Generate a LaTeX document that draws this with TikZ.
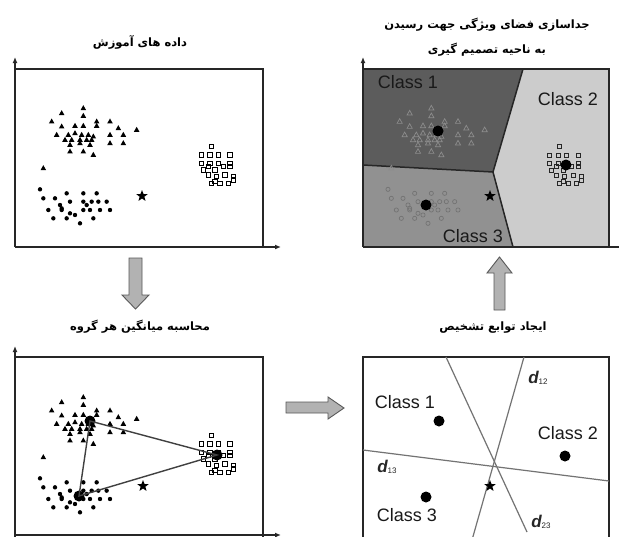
\documentclass[tikz,border=0pt]{standalone}
\usepackage{fontspec}
\setmainfont{Liberation Sans}
\newfontfamily\fa[Script=Arabic]{DejaVu Sans}
\TeXXeTstate=1
\usetikzlibrary{shapes.geometric,arrows.meta}

\def\TriList{185/340,250/325,155/365,250/348,290/365,330/365,185/380,225/378,250/378,290/378,355/385,410/390,170/405,205/405,225/400,245/405,265/405,280/410,330/405,370/405,195/420,215/420,240/420,260/420,275/420,210/435,240/430,270/435,330/430,370/430,210/455,250/455,280/465,130/505}
\def\DotList{120/568,130/595,165/595,200/580,250/580,290/580,145/630,180/615,210/605,250/605,275/605,295/605,320/605,185/630,210/640,225/645,250/630,270/630,300/630,330/630,160/655,200/655,240/670,280/655,185/625,260/615}
\def\SqList{635/440,605/465,630/465,655/465,690/465,605/490,630/490,655/490,690/490,610/510,625/500,645/510,670/500,690/500,625/525,650/530,675/525,700/530,635/550,660/550,685/550,700/540,645/545}

\begin{document}
\begin{tikzpicture}[x=1pt,y=-1pt,
  axisline/.style={line width=1.3pt, draw=black!85},
  axisarrow/.style={line width=1.3pt, draw=black!85, -{Latex[length=6pt,width=5pt]}},
  blockarrow/.style={fill=black!30, draw=black!65, line width=0.9pt},
  title/.style={font=\fa\bfseries\fontsize{11.5}{13}\selectfont, inner sep=0pt},
  cls/.style={font=\fontsize{18}{20}\selectfont, inner sep=0pt, text=black!90},
  dlab/.style={font=\fontsize{17}{19}\selectfont\bfseries\itshape, inner sep=0pt, text=black!85},
  centroid/.style={circle, fill=black, minimum size=11pt, inner sep=0pt},
  starmark/.style={star, star points=5, star point ratio=2.4, fill=black, minimum size=12pt, inner sep=0pt},
  sepline/.style={draw=black!55, line width=1.2pt},
  bound/.style={draw=black!85, line width=1.5pt}]
\useasboundingbox[fill=white] (0,0) rectangle (619,536);

% ---------- Top-left panel ----------
\node[title] (t1) at (140,42) {\beginR داده های آموزش\endR};
\draw[axisline] (15,69) -- (263,69) -- (263,247);
\draw[axisarrow] (15,247) -- (15,57);
\draw[axisarrow] (15,247) -- (281,247);
\foreach \x/\y in \TriList {\fill ({\x/3},{\y/3}) +(0pt,3.2pt) -- +(2.8pt,-1.8pt) -- +(-2.8pt,-1.8pt) -- cycle;}
\foreach \x/\y in \DotList {\fill ({\x/3},{\y/3}) circle (2.2pt);}
\foreach \x/\y in \SqList {\draw[line width=0.9pt] ({\x/3-2.1},{\y/3-2.1}) rectangle +(4.2pt,-4.2pt);}
\node[starmark] (s1) at (142,196) {};

% ---------- Top-right panel ----------
\node[title] (t2a) at (487,25) {\beginR جداسازی فضای ویژگی جهت رسیدن\endR};
\node[title] (t2b) at (487,50) {\beginR به ناحیه تصمیم گیری\endR};
\fill[black!64] (363,69) -- (523,69) -- (493,172) -- (363,165) -- cycle;
\fill[black!20] (523,69) -- (609,69) -- (609,247) -- (513,247) -- (493,172) -- cycle;
\fill[black!43] (363,165) -- (493,172) -- (513,247) -- (363,247) -- cycle;
\draw[bound] (523,69) -- (493,172) -- (513,247);
\draw[bound] (363,165) -- (493,172);
\draw[axisline] (363,69) -- (609,69) -- (609,247);
\draw[axisarrow] (363,247) -- (363,57);
\draw[axisline] (363,247) -- (619,247);
\begin{scope}[shift={(348,0)}]
\foreach \x/\y in \TriList {\draw[black!45, line width=0.7pt] ({\x/3},{\y/3}) +(0pt,3pt) -- +(2.6pt,-1.7pt) -- +(-2.6pt,-1.7pt) -- cycle;}
\foreach \x/\y in \DotList {\draw[black!55, line width=0.7pt] ({\x/3},{\y/3}) circle (2.1pt);}
\foreach \x/\y in \SqList {\draw[black!85, line width=0.8pt] ({\x/3-2},{\y/3-2}) rectangle +(4pt,-4pt);}
\end{scope}
\node[cls] (c1a) at (408,82) {Class 1};
\node[cls] (c2a) at (568,99) {Class 2};
\node[cls] (c3a) at (473,236) {Class 3};
\node[centroid] (m1a) at (438,131) {};
\node[centroid] (m2a) at (566,165) {};
\node[centroid] (m3a) at (426,205) {};
\node[starmark] (s2) at (490,196) {};

% ---------- Block arrows ----------
\draw[blockarrow] (129,258) -- (142,258) -- (142,295) -- (149,295) -- (135.5,309) -- (122,295) -- (129,295) -- cycle;
\draw[blockarrow] (494,310) -- (505,310) -- (505,273) -- (512,273) -- (499.5,257) -- (487,273) -- (494,273) -- cycle;
\draw[blockarrow] (286,402) -- (328,402) -- (328,397) -- (344,408) -- (328,419) -- (328,413) -- (286,413) -- cycle;

% ---------- Bottom-left panel ----------
\node[title] (t3) at (140,327) {\beginR محاسبه میانگین هر گروه\endR};
\draw[axisline] (15,357) -- (263,357) -- (263,540);
\draw[axisarrow] (15,540) -- (15,346);
\draw[axisarrow] (15,535) -- (281,535);
\begin{scope}[shift={(0,289)}]
\foreach \x/\y in \TriList {\fill ({\x/3},{\y/3}) +(0pt,3.2pt) -- +(2.8pt,-1.8pt) -- +(-2.8pt,-1.8pt) -- cycle;}
\foreach \x/\y in \DotList {\fill ({\x/3},{\y/3}) circle (2.2pt);}
\foreach \x/\y in \SqList {\draw[line width=0.9pt] ({\x/3-2.1},{\y/3-2.1}) rectangle +(4.2pt,-4.2pt);}
\end{scope}
\node[centroid] (m1b) at (90,421) {};
\node[centroid] (m2b) at (217,455) {};
\node[centroid] (m3b) at (79,496) {};
\draw[draw=black!75, line width=1.4pt] (m1b.center) -- (m2b.center) -- (m3b.center) -- cycle;
\node[starmark] (s3) at (143,486) {};

% ---------- Bottom-right panel ----------
\node[title] (t4) at (493,328) {\beginR ایجاد توابع تشخیص\endR};
\draw[axisline] (363,540) -- (363,357) -- (609,357) -- (609,540);
\coordinate (d12a) at (524,357); \coordinate (d12b) at (472,540);
\coordinate (d23a) at (446,357); \coordinate (d23b) at (527,532);
\coordinate (d13a) at (363,450); \coordinate (d13b) at (609,481);
\draw[sepline] (d12a) -- (d12b);
\draw[sepline] (d23a) -- (d23b);
\draw[sepline] (d13a) -- (d13b);
\node[dlab] (l12) at (538,378) {d\raisebox{-1pt}{\fontsize{8}{9}\selectfont\upshape\mdseries 12}};
\node[dlab] (l13) at (387,467) {d\raisebox{-1pt}{\fontsize{8}{9}\selectfont\upshape\mdseries 13}};
\node[dlab] (l23) at (541,522) {d\raisebox{-1pt}{\fontsize{8}{9}\selectfont\upshape\mdseries 23}};
\node[cls] (c1b) at (405,402) {Class 1};
\node[cls] (c2b) at (568,433) {Class 2};
\node[cls] (c3b) at (407,515) {Class 3};
\node[centroid] (m1c) at (439,421) {};
\node[centroid] (m2c) at (565,456) {};
\node[centroid] (m3c) at (426,497) {};
\node[starmark] (s4) at (490,486) {};
\end{tikzpicture}
\end{document}
